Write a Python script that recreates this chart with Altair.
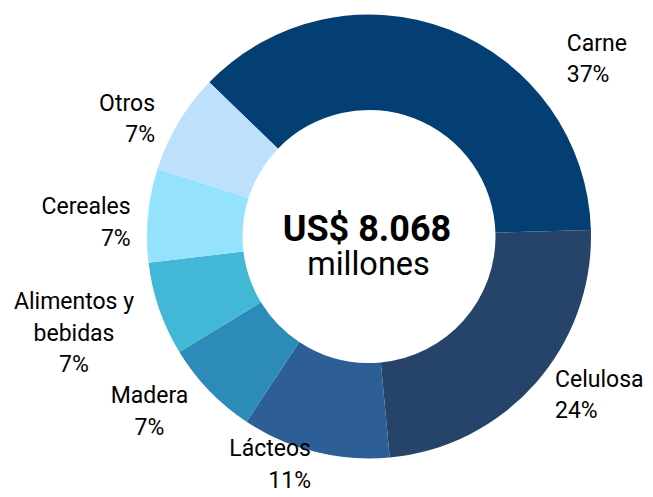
import altair as alt
import pandas as pd

# ---- data ----
categories = ["Carne", "Celulosa", "Lácteos", "Madera", "Alimentos y bebidas", "Cereales", "Otros"]
values = [3010, 1935, 870, 565, 550, 550, 588]          # US$ millones
pct_labels = ["37%", "24%", "11%", "7%", "7%", "7%", "7%"]
label_names = ["Carne", "Celulosa", "Lácteos", "Madera", "Alimentos y\nbebidas", "Cereales", "Otros"]
total_text = "US$ 8.068"
unit_text = "millones"

# ---- style / layout ----
colors = ["#033f72", "#26446a", "#2e5e96", "#2d8bb9", "#42b8d6", "#94e2fd", "#bde0fc"]
W, H = 637, 481
CX, CY = 361, 228.5
R_OUT, R_IN = 222, 126.5
START = 6.283185307 - 0.803
FONT = "Roboto"
LABEL_SIZE = 23
LINE_H = 31.6
# label anchor (x, first-line baseline y, align)
label_layout = {
    "Carne": (558.7, 42.7, "left"),
    "Celulosa": (547, 378.7, "left"),
    "Lácteos": (303, 448, "right"),
    "Madera": (141.5, 395.3, "center"),
    "Alimentos y bebidas": (66, 301.3, "center"),
    "Cereales": (122.7, 206, "right"),
    "Otros": (147, 102.7, "right"),
}

df = pd.DataFrame({"cat": categories, "val": values, "order": list(range(len(categories)))})

arc = alt.Chart(df).mark_arc(
    innerRadius=R_IN, outerRadius=R_OUT, x=CX, y=CY
).encode(
    theta=alt.Theta("val:Q", stack=True, scale=alt.Scale(range=[START, START + 6.283185307])),
    color=alt.Color("cat:N", scale=alt.Scale(domain=categories, range=colors), legend=None),
    order=alt.Order("order:Q"),
)

lab = pd.DataFrame({
    "cat": categories,
    "text": [n + "\n" + p for n, p in zip(label_names, pct_labels)],
    "lx": [label_layout[c][0] for c in categories],
    "ly": [label_layout[c][1] for c in categories],
    "al": [label_layout[c][2] for c in categories],
})

layers = [arc]
for al in ["left", "center", "right"]:
    layers.append(
        alt.Chart(lab).transform_filter(alt.datum.al == al).mark_text(
            align=al, baseline="alphabetic", font=FONT, fontSize=LABEL_SIZE,
            lineBreak="\n", lineHeight=LINE_H, color="#000000"
        ).encode(
            x=alt.X("lx:Q", scale=None),
            y=alt.Y("ly:Q", scale=None),
            text="text:N",
        )
    )

center_df = pd.DataFrame({
    "t": [total_text, unit_text],
    "x": [359, 360.5],
    "y": [232.7, 267],
    "w": ["bold", "normal"],
})
layers.append(
    alt.Chart(center_df).transform_filter(alt.datum.w == "bold").mark_text(
        align="center", baseline="alphabetic", font=FONT, fontSize=36, fontWeight="bold", color="#000000"
    ).encode(x=alt.X("x:Q", scale=None), y=alt.Y("y:Q", scale=None), text="t:N")
)
layers.append(
    alt.Chart(center_df).transform_filter(alt.datum.w == "normal").mark_text(
        align="center", baseline="alphabetic", font=FONT, fontSize=32.5, color="#000000"
    ).encode(x=alt.X("x:Q", scale=None), y=alt.Y("y:Q", scale=None), text="t:N")
)

chart = alt.layer(*layers).properties(
    width=W, height=H, padding=0, autosize=alt.AutoSizeParams(type="none")
).configure_view(stroke=None)

chart.save("out.html", embed_options={"renderer": "svg", "actions": False})
